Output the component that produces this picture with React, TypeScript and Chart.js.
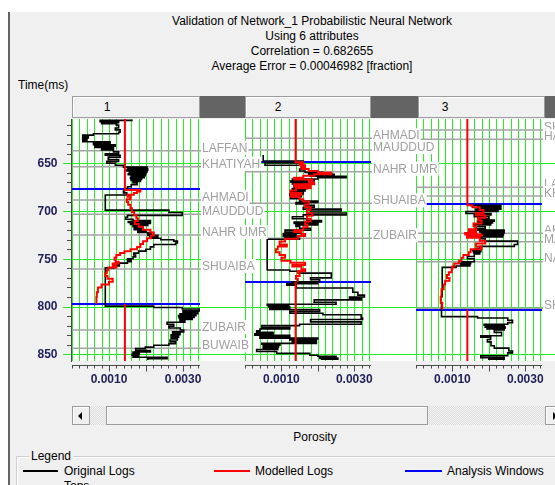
import React, { useEffect, useRef } from 'react';
import { Chart, registerables } from 'chart.js';

Chart.register(...registerables);

const FONT = '"Liberation Sans", Arial, sans-serif';
const W = 555;
const H = 485;
const PLOT_TOP = 119;
const PLOT_BOTTOM = 361;

const TITLE_LINES = [
  'Validation of Network_1 Probabilistic Neural Network',
  'Using 6 attributes',
  'Correlation = 0.682655',
  'Average Error = 0.00046982 [fraction]',
];
const TRACK_NAMES = ['1', '2', '3'];
const TIME_MIN = 603.6;
const TIME_MAX = 857;
const Y_MAJOR_TICKS = [650, 700, 750, 800, 850];
const Y_MINOR_STEP = 10;
const X_MAX = 0.00346;
const X_GRID_STEP = 0.0002;
const X_MAJOR_TICKS = [0.001, 0.002, 0.003];
const X_LABEL_VALUES = [0.001, 0.003];
const X_LABEL_TEXT = ['0.0010', '0.0030'];
const LEGEND_ITEMS = ['Original Logs', 'Modelled Logs', 'Analysis Windows'];
const LEGEND_COLORS = ['#000000', '#ff0000', '#0000ff'];

// ---------- Track 1 ----------
const T1_ORIGINAL: [number, number][] = [
  [604.0, 0.00162], [605.0, 0.00076], [606.5, 0.00126], [607.5, 0.0008], [608.5, 0.0012],
  [610.0, 0.00126], [613.0, 0.00117], [615.0, 0.0013], [617.5, 0.00126], [619.0, 0.00058],
  [620.5, 0.00029], [622.0, 0.00044], [623.5, 0.00029], [625.0, 0.0004], [626.5, 0.00029],
  [627.5, 0.00103], [629.0, 0.00058], [630.5, 0.00117], [632.0, 0.00062], [633.5, 0.00112],
  [634.5, 0.0008], [636.0, 0.00112], [638.0, 0.00126], [640.0, 0.0009], [641.5, 0.0013],
  [643.5, 0.00098], [646.0, 0.00126], [648.0, 0.00094], [650.0, 0.00117], [652.0, 0.00139],
  [654.0, 0.00203], [655.0, 0.0015], [656.0, 0.00205], [657.0, 0.00148], [658.0, 0.00203],
  [659.0, 0.00155], [660.0, 0.002], [661.0, 0.00152], [662.0, 0.00198], [663.0, 0.0016],
  [664.0, 0.00195], [665.0, 0.00158], [666.0, 0.00188], [667.0, 0.0016], [668.0, 0.00185],
  [669.0, 0.00165], [670.5, 0.00176], [672.5, 0.0016], [674.5, 0.0015], [676.5, 0.00142],
  [679.0, 0.00139], [681.0, 0.00148], [683.2, 0.0009], [699.0, 0.00262], [701.5, 0.00298],
  [704.5, 0.0015], [706.5, 0.00145], [708.5, 0.00165], [710.0, 0.00212], [711.0, 0.00152],
  [712.0, 0.00212], [713.0, 0.00158], [714.0, 0.00205], [715.0, 0.00165], [716.5, 0.0019],
  [718.0, 0.00168], [719.5, 0.002], [721.0, 0.00178], [722.5, 0.00215], [724.0, 0.00205],
  [725.5, 0.00232], [727.0, 0.0021], [728.5, 0.0024], [730.0, 0.00275], [731.5, 0.00285],
  [733.5, 0.0028], [735.0, 0.00221], [737.5, 0.00212], [740.0, 0.002], [742.0, 0.0018],
  [744.0, 0.00167], [746.0, 0.00172], [748.0, 0.00165], [750.0, 0.0015], [751.5, 0.0016],
  [753.0, 0.0015], [754.5, 0.00122], [756.0, 0.00128], [757.5, 0.00115], [759.5, 0.0009],
  [799.5, 0.00221], [801.0, 0.00298], [802.5, 0.00345], [804.5, 0.003], [806.0, 0.0034],
  [807.5, 0.00292], [808.5, 0.00335], [809.5, 0.00288], [810.5, 0.0033], [811.5, 0.0029],
  [812.5, 0.00325], [813.5, 0.00292], [815.0, 0.00305], [816.5, 0.00257], [818.5, 0.00275],
  [820.5, 0.00262], [822.5, 0.00293], [824.5, 0.00302], [826.5, 0.00272], [828.0, 0.00292],
  [829.5, 0.00268], [831.0, 0.00288], [832.0, 0.00268], [833.0, 0.00285], [835.0, 0.00265],
  [837.0, 0.0028], [839.0, 0.00262], [840.5, 0.00221], [842.5, 0.00198], [844.0, 0.00172],
  [846.0, 0.00212], [847.5, 0.00165], [849.0, 0.00182], [850.0, 0.00162], [851.0, 0.0018],
  [852.0, 0.00165], [853.0, 0.00257], [854.5, 0.00205], [856.0, 0.00205],
];
const T1_MODELLED: [number, number][] = [
  [677.1, 0.00143], [678.0, 0.00185], [679.5, 0.00176], [681.0, 0.00167], [683.0, 0.0015],
  [685.0, 0.00158], [687.5, 0.00148], [690.5, 0.00152], [693.5, 0.00158], [697.0, 0.00162],
  [701.0, 0.00168], [704.5, 0.00174], [707.5, 0.00178], [710.5, 0.0017], [713.5, 0.0018],
  [716.5, 0.00192], [719.5, 0.00212], [722.5, 0.00221], [725.5, 0.00214], [728.5, 0.00203],
  [731.5, 0.00192], [734.5, 0.00185], [737.5, 0.00176], [740.0, 0.00158], [742.0, 0.00142],
  [744.0, 0.0013], [746.0, 0.0012], [748.5, 0.00115], [751.0, 0.00118], [753.0, 0.00126],
  [755.0, 0.0011], [757.0, 0.0012], [759.0, 0.00098], [762.0, 0.00094], [765.0, 0.0009],
  [768.0, 0.00096], [771.0, 0.0011], [774.0, 0.001], [777.0, 0.0008], [780.0, 0.0007],
  [785.0, 0.00067], [790.0, 0.00066], [797.3, 0.00066],
];
const T1_WINDOW = [677.1, 797.3];
const T1_CONSTANT = 0.00143;
const T1_TOP_NAMES = ['LAFFAN', 'KHATIYAH', 'AHMADI', 'MAUDDUD', 'NAHR UMR', 'SHUAIBA', 'ZUBAIR', 'BUWAIB'];
const T1_TOP_TIMES = [636.8, 653.6, 688.4, 703.4, 725.1, 760.7, 824.6, 843.7];

// ---------- Track 2 ----------
const T2_ORIGINAL: [number, number][] = [
  [641.4, 0.0005], [647.5, 0.0016], [649.5, 0.00055], [652.0, 0.00155], [654.0, 0.00165],
  [656.0, 0.0015], [658.0, 0.00165], [659.5, 0.00214], [660.5, 0.00175], [661.5, 0.00245],
  [662.5, 0.0018], [663.5, 0.00278], [665.0, 0.002], [666.5, 0.0013], [667.5, 0.0019],
  [668.5, 0.00125], [669.5, 0.00185], [670.5, 0.0013], [671.5, 0.00175], [672.5, 0.00135],
  [673.5, 0.00172], [674.5, 0.00135], [675.5, 0.0017], [676.5, 0.0013], [677.5, 0.00165],
  [679.0, 0.00125], [680.5, 0.0016], [682.0, 0.00123], [683.5, 0.00155], [685.0, 0.00125],
  [687.0, 0.0015], [689.5, 0.002], [691.0, 0.0014], [692.5, 0.0017], [694.0, 0.0019],
  [696.0, 0.0016], [698.0, 0.00264], [700.0, 0.0018], [702.0, 0.00278], [704.0, 0.0016],
  [706.0, 0.0013], [708.0, 0.0017], [710.0, 0.0021], [711.5, 0.00135], [713.0, 0.002],
  [714.5, 0.0014], [716.0, 0.0015], [718.0, 0.0018], [720.0, 0.0011], [722.0, 0.00155],
  [723.5, 0.00105], [724.5, 0.0014], [725.5, 0.00105], [726.5, 0.0014], [727.5, 0.0011],
  [728.5, 0.0015], [729.5, 0.00061], [761.7, 0.00123], [763.0, 0.0015], [765.0, 0.00237],
  [770.0, 0.0018], [772.0, 0.00205], [774.0, 0.0013], [775.0, 0.002], [776.0, 0.00115],
  [777.5, 0.00141], [780.5, 0.00296], [785.0, 0.0031], [788.0, 0.00328], [790.0, 0.00287],
  [791.5, 0.0032], [793.0, 0.0019], [795.5, 0.0025], [797.5, 0.00061], [798.5, 0.0012],
  [799.5, 0.00065], [800.5, 0.00123], [801.5, 0.00068], [803.0, 0.00205], [805.0, 0.00123],
  [807.0, 0.00214], [808.5, 0.00319], [812.0, 0.00323], [813.5, 0.0018], [816.0, 0.00319],
  [818.5, 0.0015], [820.0, 0.00046], [822.0, 0.00123], [823.5, 0.00041], [825.5, 0.00032],
  [827.0, 0.00077], [828.5, 0.00027], [830.0, 0.00123], [831.5, 0.00041], [833.0, 0.002],
  [834.0, 0.00123], [835.0, 0.00196], [836.0, 0.0013], [837.0, 0.00196], [838.5, 0.00046],
  [839.5, 0.00096], [840.5, 0.0005], [841.5, 0.00092], [842.5, 0.0005], [843.5, 0.0009],
  [845.0, 0.00032], [847.0, 0.00087], [849.0, 0.00178], [851.0, 0.002],
  [852.0, 0.0025], [853.0, 0.00205], [854.0, 0.00255], [855.0, 0.0021], [856.0, 0.0021],
];
const T2_MODELLED: [number, number][] = [
  [648.3, 0.00139], [649.0, 0.0016], [650.0, 0.0015], [652.0, 0.00165], [654.0, 0.00155],
  [656.0, 0.00175], [658.0, 0.002], [660.0, 0.00237], [661.5, 0.0019], [663.0, 0.0016],
  [665.0, 0.00135], [667.0, 0.00185], [669.0, 0.00175], [670.5, 0.0019], [672.0, 0.00135],
  [674.0, 0.0018], [676.0, 0.0014], [678.5, 0.00125], [681.0, 0.00155], [683.0, 0.00125],
  [685.0, 0.0015], [687.5, 0.0016], [690.0, 0.00175], [693.0, 0.00165], [696.0, 0.0018],
  [699.0, 0.0017], [702.0, 0.00185], [705.0, 0.0017], [708.0, 0.0018], [711.0, 0.00165],
  [714.0, 0.00172], [717.0, 0.0016], [720.0, 0.00135], [722.0, 0.00155], [724.0, 0.00165],
  [726.0, 0.00145], [729.0, 0.0011], [732.0, 0.00095], [735.0, 0.00115], [737.0, 0.0009],
  [740.0, 0.00085], [743.0, 0.00095], [746.0, 0.0011], [749.0, 0.001], [752.0, 0.00125],
  [754.0, 0.00165], [756.5, 0.0013], [758.0, 0.00155], [761.0, 0.00165], [763.0, 0.00145],
  [765.0, 0.0015], [768.0, 0.0014], [771.0, 0.00145], [774.0, 0.00145],
];
const T2_WINDOW = [648.3, 774.0];
const T2_CONSTANT = 0.00139;
const T2_TOP_NAMES = ['AHMADI', 'MAUDDUD', 'NAHR UMR', 'SHUAIBA', 'ZUBAIR'];
const T2_TOP_TIMES = [623.8, 636.1, 658.8, 691.9, 728.5];

// ---------- Track 3 ----------
const T3_ORIGINAL: [number, number][] = [
  [692.8, 0.0015], [694.0, 0.00233], [695.5, 0.0017], [697.0, 0.00233], [698.0, 0.00164],
  [699.0, 0.00225], [700.5, 0.00137], [702.5, 0.00206], [704.0, 0.0016], [706.0, 0.002],
  [708.0, 0.00175], [709.5, 0.00215], [710.5, 0.00169], [711.5, 0.0021], [712.5, 0.00172],
  [713.5, 0.00205], [714.5, 0.0016], [716.5, 0.0019], [718.5, 0.00165], [720.0, 0.00242],
  [721.0, 0.00175], [722.0, 0.00242], [723.0, 0.0018], [724.0, 0.0024], [725.0, 0.00185],
  [726.0, 0.00238], [727.0, 0.00178], [729.0, 0.0019], [731.5, 0.00279], [735.0, 0.0027],
  [737.0, 0.00175], [739.0, 0.00165], [740.5, 0.00155], [741.5, 0.00178], [742.5, 0.00158],
  [743.5, 0.00175], [745.0, 0.0016], [747.5, 0.00141], [750.0, 0.0016], [753.0, 0.00125],
  [754.0, 0.0015], [755.0, 0.00123], [756.0, 0.00148], [757.5, 0.0011], [759.0, 0.00072],
  [789.5, 0.00068], [796.0, 0.0007], [810.5, 0.00169], [812.0, 0.00252], [814.5, 0.00265],
  [817.0, 0.00252], [818.5, 0.00187], [819.5, 0.00242], [820.5, 0.0019], [821.5, 0.00245],
  [822.5, 0.00195], [823.5, 0.00242], [824.5, 0.00215], [827.0, 0.00235], [830.5, 0.00178],
  [832.0, 0.00205], [834.5, 0.00196], [837.0, 0.00206], [841.0, 0.00215], [843.5, 0.00255],
  [846.5, 0.00265], [848.5, 0.00252], [851.5, 0.00178], [853.5, 0.00242], [855.0, 0.002],
  [856.0, 0.002],
];
const T3_MODELLED: [number, number][] = [
  [692.8, 0.00141], [694.0, 0.00155], [696.0, 0.00175], [699.0, 0.00185], [702.0, 0.00165],
  [704.5, 0.0019], [707.0, 0.0017], [710.0, 0.0018], [713.0, 0.00158], [716.0, 0.00165],
  [719.0, 0.00145], [721.0, 0.00165], [723.0, 0.00135], [724.5, 0.0018], [726.0, 0.0014],
  [728.0, 0.00175], [731.0, 0.0019], [734.0, 0.00165], [737.0, 0.0018], [740.0, 0.0015],
  [743.0, 0.00145], [746.0, 0.0013], [749.0, 0.00125], [752.0, 0.00118], [755.0, 0.00105],
  [758.0, 0.001], [761.0, 0.00098], [764.0, 0.0009], [767.0, 0.00085], [770.0, 0.00092],
  [773.0, 0.0008], [777.0, 0.00076], [782.0, 0.0007], [790.0, 0.00068], [796.0, 0.00072],
  [803.2, 0.00072],
];
const T3_WINDOW = [692.8, 803.2];
const T3_CONSTANT = 0.00141;
const T3_TOP_NAMES = ['SHILAIF', 'HALUL', 'LAFFAN', 'KHATIYAH', 'AHMADI', 'MAUDDUD', 'NAHR UMR', 'SHUAIBA'];
const T3_TOP_TIMES = [615.1, 624.9, 675.1, 684.2, 723.3, 732.1, 753.0, 801.8];

const TRACKS = [
  { original: T1_ORIGINAL, modelled: T1_MODELLED, window: T1_WINDOW, constant: T1_CONSTANT, topNames: T1_TOP_NAMES, topTimes: T1_TOP_TIMES },
  { original: T2_ORIGINAL, modelled: T2_MODELLED, window: T2_WINDOW, constant: T2_CONSTANT, topNames: T2_TOP_NAMES, topTimes: T2_TOP_TIMES },
  { original: T3_ORIGINAL, modelled: T3_MODELLED, window: T3_WINDOW, constant: T3_CONSTANT, topNames: T3_TOP_NAMES, topTimes: T3_TOP_TIMES },
];

// layout (pixels) of each track
const TRACK_BOXES = [
  { left: 72, right: 200, regionRight: 245, header: [72, 128], headerText: 107 },
  { left: 245, right: 371, regionRight: 416, header: [245, 126], headerText: 278 },
  { left: 416, right: 542, regionRight: 555, header: [418, 127], headerText: 445 },
];

const GREEN = '#22f022';
const GRAY_TOP = '#a4a4a4';
const AXIS_COLOR = '#4a4a4a';
const LABEL_NAVY = '#1e1e58';

function makeDecor(i: number) {
  const tr = TRACKS[i];
  const box = TRACK_BOXES[i];
  return {
    id: 'trackDecor' + i,
    beforeDatasetsDraw(chart: any) {
      const ctx = chart.ctx;
      const xs = chart.scales.x;
      const ys = chart.scales.y;
      const { left, right, top, bottom } = chart.chartArea;
      ctx.save();
      ctx.fillStyle = '#ffffff';
      ctx.fillRect(left, top, box.regionRight - left, bottom - top);
      ctx.strokeStyle = GREEN;
      ctx.lineWidth = 1;
      ctx.beginPath();
      for (let k = 0; k * X_GRID_STEP <= X_MAX + 1e-12; k++) {
        const px = Math.round(xs.getPixelForValue(k * X_GRID_STEP)) + 0.5;
        ctx.moveTo(px, top);
        ctx.lineTo(px, bottom);
      }
      ctx.stroke();
      ctx.beginPath();
      Y_MAJOR_TICKS.forEach((t) => {
        const py = Math.round(ys.getPixelForValue(t)) + 0.5;
        ctx.moveTo(i === 0 ? 63 : left, py);
        ctx.lineTo(box.regionRight, py);
      });
      ctx.stroke();
      ctx.strokeStyle = GRAY_TOP;
      ctx.lineWidth = 1.5;
      ctx.beginPath();
      tr.topTimes.forEach((t) => {
        const py = ys.getPixelForValue(t);
        ctx.moveTo(left, py);
        ctx.lineTo(right + 2, py);
      });
      ctx.stroke();
      ctx.strokeStyle = '#0000ff';
      ctx.lineWidth = 2;
      ctx.beginPath();
      tr.window.forEach((t) => {
        const py = Math.round(ys.getPixelForValue(t));
        ctx.moveTo(left, py);
        ctx.lineTo(right, py);
      });
      ctx.stroke();
      ctx.restore();
    },
    afterDatasetsDraw(chart: any) {
      const ctx = chart.ctx;
      const xs = chart.scales.x;
      const ys = chart.scales.y;
      const { left, right, top, bottom } = chart.chartArea;
      ctx.save();
      ctx.font = `12px ${FONT}`;
      ctx.textBaseline = 'middle';
      ctx.textAlign = 'left';
      tr.topNames.forEach((name, j) => {
        const py = ys.getPixelForValue(tr.topTimes[j]) - 3;
        const x = right + 2;
        const w = ctx.measureText(name).width;
        ctx.fillStyle = '#ffffff';
        ctx.fillRect(x - 1, py - 7, w + 2, 14);
        ctx.fillStyle = '#a0a0a0';
        ctx.fillText(name, x, py + 0.5);
      });
      const axisY = 365.5;
      ctx.strokeStyle = AXIS_COLOR;
      ctx.lineWidth = 1;
      ctx.beginPath();
      ctx.moveTo(left, axisY);
      ctx.lineTo(right, axisY);
      for (let k = 0; k * X_GRID_STEP <= X_MAX + 1e-12; k++) {
        const v = k * X_GRID_STEP;
        const px = Math.round(xs.getPixelForValue(v)) + 0.5;
        const major = X_MAJOR_TICKS.some((m) => Math.abs(m - v) < 1e-9);
        ctx.moveTo(px, axisY);
        ctx.lineTo(px, axisY + (major ? 6 : 3));
      }
      ctx.stroke();
      ctx.font = `bold 12px ${FONT}`;
      ctx.fillStyle = LABEL_NAVY;
      ctx.textAlign = 'center';
      X_LABEL_VALUES.forEach((v, j) => {
        ctx.fillText(X_LABEL_TEXT[j], xs.getPixelForValue(v), 380);
      });
      if (i === 0) {
        ctx.strokeStyle = AXIS_COLOR;
        ctx.beginPath();
        ctx.moveTo(71.5, top);
        ctx.lineTo(71.5, bottom + 1);
        for (let t = Math.ceil(TIME_MIN / Y_MINOR_STEP) * Y_MINOR_STEP; t <= TIME_MAX; t += Y_MINOR_STEP) {
          if (Y_MAJOR_TICKS.includes(t)) continue;
          const py = Math.round(ys.getPixelForValue(t)) + 0.5;
          ctx.moveTo(67, py);
          ctx.lineTo(71, py);
        }
        ctx.stroke();
        ctx.textAlign = 'right';
        Y_MAJOR_TICKS.forEach((t) => {
          ctx.fillText(String(t), 57.5, ys.getPixelForValue(t) + 0.5);
        });
      }
      ctx.restore();
    },
  };
}

function buildConfig(i: number): any {
  const tr = TRACKS[i];
  const box = TRACK_BOXES[i];
  const [w0, w1] = tr.window;
  const base = { showLine: true, pointRadius: 0, fill: false, tension: 0 };
  return {
    type: 'scatter',
    data: {
      datasets: [
        { ...base, label: 'Modelled Logs', data: tr.modelled.map(([t, v]) => ({ x: v, y: t })), borderColor: '#ff0000', borderWidth: 2, stepped: 'after', order: 1 },
        { ...base, label: 'Modelled above', data: [{ x: tr.constant, y: TIME_MIN }, { x: tr.constant, y: w0 }], borderColor: '#ff0000', borderWidth: 2, order: 1 },
        { ...base, label: 'Modelled below', data: [{ x: tr.constant, y: w1 }, { x: tr.constant, y: TIME_MAX }], borderColor: '#ff0000', borderWidth: 2, order: 1 },
        { ...base, label: 'Original Logs', data: tr.original.map(([t, v]) => ({ x: v, y: t })), borderColor: '#000000', borderWidth: 1.6, stepped: 'after', order: 2 },
      ],
    },
    options: {
      responsive: false,
      animation: false,
      devicePixelRatio: 1,
      events: [],
      layout: { padding: { left: box.left, right: W - box.right, top: PLOT_TOP, bottom: H - PLOT_BOTTOM } },
      plugins: { legend: { display: false }, tooltip: { enabled: false }, title: { display: false } },
      scales: {
        x: { type: 'linear', display: false, min: 0, max: X_MAX },
        y: { type: 'linear', display: false, min: TIME_MIN, max: TIME_MAX, reverse: true },
      },
    },
    plugins: [makeDecor(i)],
  };
}

const abs = (s: any) => ({ position: 'absolute' as const, ...s });
const raised = {
  background: '#f0f0f0',
  border: '1px solid #9c9c9c',
  boxShadow: 'inset 1px 1px 0 #ffffff',
  boxSizing: 'border-box' as const,
};

export default function App() {
  const r1 = useRef<HTMLCanvasElement>(null);
  const r2 = useRef<HTMLCanvasElement>(null);
  const r3 = useRef<HTMLCanvasElement>(null);
  const refs = [r1, r2, r3];

  useEffect(() => {
    const charts = refs.map((r, i) => new Chart(r.current as HTMLCanvasElement, buildConfig(i)));
    return () => charts.forEach((c) => c.destroy());
  }, []);

  return (
    <div style={{ position: 'fixed', left: 0, top: 0, width: W, height: H, overflow: 'hidden', background: '#ffffff', fontFamily: FONT, fontSize: 12, color: '#000' }}>
      <div style={abs({ left: 8, top: 12, width: W - 8, height: H - 12, background: '#f0f0f0', borderLeft: '2px solid #646464', boxSizing: 'border-box' })} />
      {TITLE_LINES.map((s, i) => (
        <div key={i} style={abs({ left: 12, width: 600, top: 13.5 + i * 15, lineHeight: '15px', textAlign: 'center', whiteSpace: 'nowrap' })}>{s}</div>
      ))}
      <div style={abs({ left: 18, top: 77.5, lineHeight: '15px' })}>Time(ms)</div>
      <div style={abs({ left: 72, top: 96, width: W - 72, height: 22, background: '#646464' })} />
      {TRACK_BOXES.map((b, i) => (
        <div key={i} style={abs({ left: b.header[0], top: 96, width: b.header[1], height: 22, ...raised })} />
      ))}
      {TRACK_BOXES.map((b, i) => (
        <div key={'t' + i} style={abs({ left: b.headerText - 20, width: 40, top: 99.5, lineHeight: '15px', textAlign: 'center' })}>{TRACK_NAMES[i]}</div>
      ))}
      <div style={abs({ left: 72, top: 406, width: 491, height: 19, background: 'repeating-conic-gradient(#dcdcdc 0% 25%, #f4f4f4 0% 50%) 0 0 / 2px 2px' })} />
      <div style={abs({ left: 72, top: 406, width: 18, height: 19, ...raised })}>
        <div style={abs({ left: 5, top: 5, width: 0, height: 0, borderTop: '4px solid transparent', borderBottom: '4px solid transparent', borderRight: '4px solid #000' })} />
      </div>
      <div style={abs({ left: 106, top: 406, width: 322, height: 19, ...raised })} />
      <div style={abs({ left: 545, top: 406, width: 18, height: 19, ...raised })}>
        <div style={abs({ left: 7, top: 5, width: 0, height: 0, borderTop: '4px solid transparent', borderBottom: '4px solid transparent', borderLeft: '4px solid #000' })} />
      </div>
      <div style={abs({ left: 265, width: 100, top: 430, lineHeight: '15px', textAlign: 'center' })}>Porosity</div>
      <div style={abs({ left: 16, top: 456, width: 600, height: 60, border: '1px solid #d0d0d0', boxShadow: 'inset 1px 1px 0 #ffffff', boxSizing: 'border-box' })} />
      <div style={abs({ left: 29, top: 448.5, lineHeight: '15px', padding: '0 2px', background: '#f0f0f0' })}>Legend</div>
      {LEGEND_ITEMS.map((s, i) => {
        const lx = [23, 214, 405][i];
        const lw = [35, 36, 37][i];
        const tx = [64, 255, 447][i];
        return (
          <React.Fragment key={s}>
            <div style={abs({ left: lx, top: 470, width: lw, height: 2, background: LEGEND_COLORS[i] })} />
            <div style={abs({ left: tx, top: 463.5, lineHeight: '15px', whiteSpace: 'nowrap' })}>{s}</div>
          </React.Fragment>
        );
      })}
      <div style={abs({ left: 64, top: 479, lineHeight: '15px' })}>Tops</div>
      <canvas ref={r3} width={W} height={H} style={abs({ left: 0, top: 0, width: W, height: H, zIndex: 1, pointerEvents: 'none' })} />
      <canvas ref={r2} width={W} height={H} style={abs({ left: 0, top: 0, width: W, height: H, zIndex: 2, pointerEvents: 'none' })} />
      <canvas ref={r1} width={W} height={H} style={abs({ left: 0, top: 0, width: W, height: H, zIndex: 3, pointerEvents: 'none' })} />
    </div>
  );
}
